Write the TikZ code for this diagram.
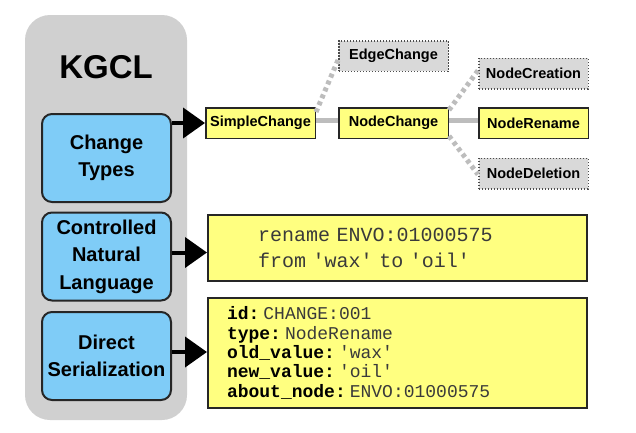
\documentclass[tikz,border=0pt]{standalone}
\usepackage{fontspec}
\setmainfont{Liberation Sans}
\setmonofont{Liberation Mono}
\usetikzlibrary{arrows.meta}
\definecolor{panelgray}{HTML}{D0D0D0}
\definecolor{kgblue}{HTML}{7FCCF7}
\definecolor{kgyellow}{HTML}{FFFF80}
\definecolor{boxgray}{HTML}{D9D9D9}
\definecolor{linkgray}{HTML}{BDBDBD}
\definecolor{valgray}{HTML}{3A3A3A}

\tikzset{
  kind/.style={draw=black!85, line width=2pt, rounded corners=10pt, fill=kgblue,
    minimum width=129pt, minimum height=88pt, inner sep=1pt, align=center,
    font=\bfseries\fontsize{20}{27.5}\selectfont},
  cls/.style={draw=black!85, line width=1.5pt, fill=kgyellow, minimum width=109.5pt,
    minimum height=30.5pt, inner sep=1pt, font=\bfseries\fontsize{14.5}{16}\selectfont},
  other/.style={cls, fill=boxgray, draw=black!70, dash pattern=on 1.5pt off 1.5pt},
  codebox/.style={draw=black!85, line width=2pt, fill=kgyellow, minimum height=66pt,
    align=left, anchor=west},
  link/.style={linkgray, line width=5pt},
  maybe/.style={linkgray, line width=5pt, dash pattern=on 4pt off 3.5pt},
  bigarrow/.style={line width=4pt, -{Triangle[length=22pt, width=30pt]}},
}
\newcommand{\val}[1]{\hspace{4pt}{\mdseries\color{valgray}#1}}
\newcommand{\q}{\textquotesingle}

\begin{document}
\begin{tikzpicture}[x=1pt,y=-1pt]
  \useasboundingbox (0,0) rectangle (636,432);
  \fill[panelgray, rounded corners=25pt] (25,15) rectangle (187,420);
  \node[font=\bfseries\fontsize{33}{36}\selectfont] (title) at (106,67) {KGCL};

  % the three parts
  \node[kind] (types) at (106.5,158) {Change\\Types};
  \node[kind] (cnl) at (106.5,256.5) {Controlled\\Natural\\Language};
  \node[kind] (serial) at (106.5,356) {Direct\\Serialization};

  % change classes
  \node[cls] (simple) at (260.5,123) {SimpleChange};
  \node[cls] (nodech) at (393.5,123) {NodeChange};
  \node[cls] (rename) at (533.5,123) {NodeRename};
  \node[other] (edge) at (393.5,56) {EdgeChange};
  \node[other] (create) at (533.5,73.5) {NodeCreation};
  \node[other] (delete) at (533.5,173.5) {NodeDeletion};

  \draw[link] ([yshift=3pt]simple.east) -- ([yshift=3pt]nodech.west);
  \draw[link] ([yshift=3pt]nodech.east) -- ([yshift=3pt]rename.west);
  \draw[maybe] ([yshift=11pt]simple.east) -- ([yshift=12pt]edge.south west);
  \draw[maybe] ([yshift=13pt]nodech.east) -- ([yshift=3pt]create.west);
  \draw[maybe] ([yshift=-13pt]nodech.east) -- ([yshift=-1pt]delete.west);

  % code boxes
  \node[codebox, text width=279pt, inner xsep=50pt,
    font=\ttfamily\fontsize{20}{26}\selectfont, text=valgray] (cnltext) at (207,248)
    {rename ENVO:01000575\\from \q wax\q{} to \q oil\q};
  \node[codebox, text width=341pt, inner xsep=19pt, minimum height=110pt,
    font=\ttfamily\bfseries\fontsize{18}{19.3}\selectfont] (sertext) at (207,353)
    {id:\val{CHANGE:001}\\
     type:\val{NodeRename}\\
     old\_value:\val{\q wax\q}\\
     new\_value:\val{\q oil\q}\\
     about\_node:\val{ENVO:01000575}};

  \draw[bigarrow] (types.east |- simple.west) -- (simple.west);
  \draw[bigarrow] ([yshift=4pt]cnl.east) -- ([yshift=4pt]cnl.east -| cnltext.west);
  \draw[bigarrow] ([yshift=4pt]serial.east) -- ([yshift=4pt]serial.east -| sertext.west);
\end{tikzpicture}
\end{document}
